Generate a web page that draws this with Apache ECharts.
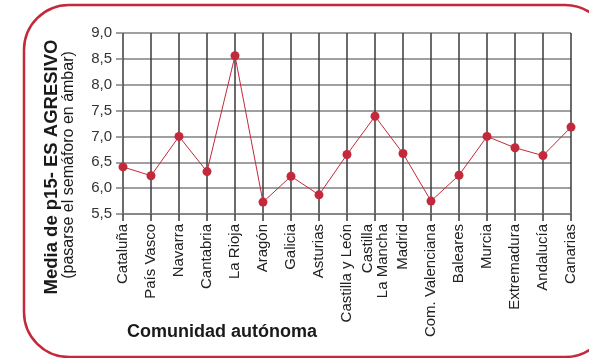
<!DOCTYPE html>
<html>
<head>
<meta charset="utf-8">
<style>
  html, body { margin: 0; padding: 0; background: #fff; }
  #chart { width: 589px; height: 358px; }
</style>
<script src="https://cdn.jsdelivr.net/npm/echarts@6/dist/echarts.min.js"></script>
</head>
<body>
<div id="chart"></div>
<script>
// Comunidades autónomas y media de la respuesta p15
const comunidades = [
  'Cataluña', 'País Vasco', 'Navarra', 'Cantabria', 'La Rioja', 'Aragón',
  'Galicia', 'Asturias', 'Castilla y León', 'Castilla\nLa Mancha', 'Madrid',
  'Com. Valenciana', 'Baleares', 'Murcia', 'Extremadura', 'Andalucía', 'Canarias'
];
const medias = [
  6.41, 6.24, 7.00, 6.32, 8.56, 5.73,
  6.23, 5.87, 6.65, 7.39, 6.67,
  5.75, 6.25, 7.00, 6.78, 6.63, 7.18
];
const yMin = 5.5;
const yMax = 9.0;
const yStep = 0.5;

const rojo = '#c4293b';
const fuente = 'Liberation Sans, Arial, Helvetica, sans-serif';

const chart = echarts.init(document.getElementById('chart'), null, { renderer: 'canvas' });

chart.setOption({
  animation: false,
  backgroundColor: '#ffffff',
  grid: { left: 123, right: 18, top: 33, bottom: 144, containLabel: false },
  xAxis: {
    type: 'category',
    data: comunidades,
    boundaryGap: false,
    axisLine: { show: true, lineStyle: { color: '#808080', width: 1.5 } },
    axisTick: { show: true, length: 7, alignWithLabel: true, lineStyle: { color: '#3a3a3a', width: 1.5 } },
    splitLine: { show: true, lineStyle: { color: '#3a3a3a', width: 1.5 } },
    axisLabel: {
      rotate: 90,
      interval: 0,
      margin: 10,
      fontFamily: fuente,
      fontSize: 15,
      color: '#222',
      lineHeight: 15
    }
  },
  yAxis: {
    type: 'value',
    min: yMin,
    max: yMax,
    interval: yStep,
    axisLine: { show: false },
    axisTick: { show: true, length: 7, lineStyle: { color: '#808080', width: 1.5 } },
    splitLine: { show: true, lineStyle: { color: '#808080', width: 1.5 } },
    axisLabel: {
      margin: 11,
      fontFamily: fuente,
      fontSize: 15,
      color: '#333',
      formatter: v => v.toFixed(1).replace('.', ',')
    }
  },
  series: [{
    type: 'line',
    data: medias,
    symbol: 'circle',
    symbolSize: 9,
    itemStyle: { color: rojo },
    lineStyle: { color: rojo, width: 1 },
    z: 5
  }],
  graphic: [
    {
      type: 'rect',
      shape: { x: 24, y: 5, width: 586, height: 352, r: 45 },
      style: { fill: 'none', stroke: rojo, lineWidth: 2.5 },
      z: 0
    },
    {
      type: 'text',
      x: 52, y: 167,
      rotation: Math.PI / 2,
      style: {
        text: 'Media de p15- ES AGRESIVO',
        font: 'bold 18.5px ' + fuente,
        fill: '#1a1a1a',
        align: 'center',
        verticalAlign: 'middle'
      }
    },
    {
      type: 'text',
      x: 69, y: 165,
      rotation: Math.PI / 2,
      style: {
        text: '(pasarse el semáforo en ámbar)',
        font: '16px ' + fuente,
        fill: '#1a1a1a',
        align: 'center',
        verticalAlign: 'middle'
      }
    },
    {
      type: 'text',
      x: 222, y: 332,
      style: {
        text: 'Comunidad autónoma',
        font: 'bold 18px ' + fuente,
        fill: '#1a1a1a',
        align: 'center',
        verticalAlign: 'middle'
      }
    }
  ]
});
</script>
</body>
</html>
